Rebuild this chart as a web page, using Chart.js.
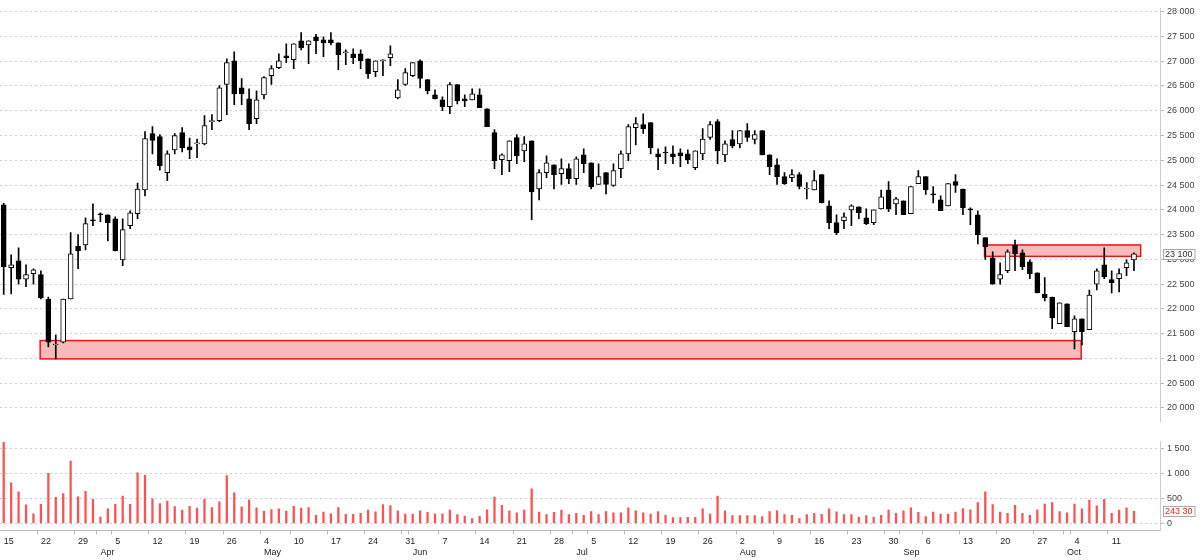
<!DOCTYPE html>
<html><head><meta charset="utf-8">
<script src="https://cdn.jsdelivr.net/npm/chart.js@4.4.1/dist/chart.umd.min.js"></script>
<style>
html,body{margin:0;padding:0;background:#fff;overflow:hidden}
#p{position:absolute;left:0;top:0;width:1200px;height:430px}
#v{position:absolute;left:0;top:433px;width:1200px;height:127px}
</style></head><body>
<div id="p"><canvas id="pc"></canvas></div>
<div id="v"><canvas id="vc"></canvas></div>
<script>
const holidays = ['2021-05-03'];
const firstDay = '2021-03-15', lastDay = '2021-10-14';
const monthNames = ['Jan','Feb','Mar','Apr','May','Jun','Jul','Aug','Sep','Oct','Nov','Dec'];
const dates = [];
for (let d = new Date(firstDay+'T00:00:00Z'); d <= new Date(lastDay+'T00:00:00Z'); d.setUTCDate(d.getUTCDate()+1)) {
  const s = d.toISOString().slice(0,10), wd = d.getUTCDay();
  if (wd>0 && wd<6 && !holidays.includes(s)) dates.push(s);
}
const padCats = ['', '', ''];
const opens =  [24100,22830,22970,22600,22710,22690,22200,21270,21330,22200,23270,23290,23800,23920,23900,23820,22990,23680,23920,24400,25540,25480,24750,25210,25560,25270,25330,25330,25780,25800,26530,27010,26460,26240,25840,26320,26710,26870,27110,27030,27410,27330,27490,27430,27430,27370,27170,27150,27150,27050,26790,27010,27070,26260,26530,26710,27010,26630,26320,26220,26080,26530,26240,26220,26320,26040,25560,25010,24990,25460,25190,25390,24420,24750,24910,24730,24830,24630,25110,24950,24510,24750,24490,24830,25130,25660,25720,25760,25130,25150,25130,25150,25130,24850,25130,25460,25780,25110,25420,25330,25600,25420,25600,25110,24910,24670,24650,24710,24420,24400,24710,24080,23740,23780,24000,24060,23840,23740,24020,24400,24120,24180,23920,24530,24670,24320,24200,24080,24570,24420,24020,23900,23440,23030,22600,22770,23290,23130,22950,22730,22300,22240,21700,22100,21540,21800,21580,22500,22890,22590,22610,22830,22990];
const highs =  [24130,23090,23230,22890,22810,22770,22240,21470,22200,23540,23500,23840,24120,23940,23900,23860,23820,23980,24540,25580,25680,25520,25190,25540,25660,25450,25430,25900,25920,26510,27050,27190,26650,26440,26400,26690,26910,27150,27350,27350,27580,27410,27540,27490,27580,27370,27230,27250,27230,27050,27010,27030,27310,26630,26850,26970,27030,26630,26420,26280,26570,26530,26320,26440,26440,26040,25620,25130,25390,25520,25480,25390,24810,25090,24910,25030,24930,25070,25230,24950,24930,24750,24930,25190,25720,25860,25940,25760,25230,25270,25290,25230,25210,25190,25640,25780,25820,25390,25600,25600,25740,25600,25600,25110,25030,24750,24810,24750,24550,24790,24710,24180,23900,23940,24100,24060,24020,24000,24400,24570,24250,24180,24470,24790,24670,24470,24280,24530,24710,24420,24040,23980,23440,23150,22930,23190,23390,23190,22990,22730,22630,22240,22120,22100,21860,21800,22380,22810,23230,22770,22810,22990,23130];
const lows =   [22290,22300,22500,22450,22500,22200,21230,20990,21310,22200,22810,23190,23680,23760,23370,23170,22870,23620,23820,24280,25130,24800,24590,25130,25170,25030,25050,25310,25620,25780,25920,26120,26120,25620,25740,26240,26530,26850,26970,26850,27230,26950,27150,27090,27330,26830,26930,26950,26850,26650,26690,26710,26910,26240,26510,26690,26460,26340,26240,26000,25940,26140,26080,26220,26060,25680,24830,24710,24770,24930,24970,23800,24200,24650,24420,24510,24530,24510,24750,24420,24510,24320,24470,24650,24990,25310,25540,25130,24810,24930,24930,24870,24930,24810,25010,25420,24930,24970,25250,25250,25380,25330,25110,24710,24510,24510,24570,24420,24220,24400,24140,23620,23500,23620,23680,23820,23700,23700,24020,23960,23900,23900,23920,24530,24310,24140,23980,24080,24350,23900,23700,23310,23000,22500,22500,22730,22770,22790,22610,22320,22160,21600,21700,21640,21190,21270,21580,22380,22610,22320,22340,22670,22770];
const closes = [22850,22890,22600,22690,22790,22220,21330,21290,22200,23110,23170,23720,23780,23900,23740,23170,23600,23940,24420,25440,25400,24890,25130,25500,25250,25210,25350,25700,25800,26460,26970,26340,26340,25740,26220,26670,26850,27010,27070,27350,27270,27410,27410,27370,27370,27130,27190,27070,27010,26750,27010,27030,27150,26420,26770,26970,26650,26400,26240,26080,26530,26200,26200,26340,26060,25680,24990,25110,25390,25090,25330,24360,24750,24950,24710,24830,24630,25030,24930,24460,24670,24510,24790,25130,25680,25740,25640,25250,25070,25150,25070,25090,25010,25190,25430,25720,25190,25330,25290,25600,25460,25520,25110,24870,24670,24530,24710,24470,24440,24590,24140,23740,23540,23860,24080,23940,23720,24000,24260,24020,24220,23900,24470,24670,24400,24300,23980,24530,24490,24040,24000,23500,23250,22500,22690,23150,23110,22850,22710,22320,22220,21820,22120,21640,21800,21540,22280,22770,22650,22530,22710,22930,23110];
const volumes = [1618,809,628,369,194,382,996,518,595,1242,530,640,479,129,291,382,543,382,1009,958,492,395,446,336,265,343,304,485,317,433,951,608,330,472,310,246,278,291,246,343,304,317,162,226,194,317,181,181,200,265,233,375,356,252,188,188,252,220,194,194,265,175,149,97,142,272,524,362,252,214,265,692,226,175,220,265,175,200,162,239,
175,239,214,214,310,252,214,188,239,162,116,116,123,123,291,188,543,252,155,155,155,155,136,239,252,175,162,97,175,200,181,291,233,175,175,123,155,123,162,265,200,252,310,220,136,226,188,188,226,298,272,414,628,375,226,200,362,200,162,272,388,414,239,214,388,291,466,349,479,200,265,310,243];
const priceTicks = [20000,20500,21000,21500,22000,22500,23000,23500,24000,24500,25000,25500,26000,26500,27000,27500,28000];
const volTicks = [0,500,1000,1500];
const zoneStart = [4.9, 131.9], zoneEnd = [144.9, 152.9], zoneLow = [20990, 23060], zoneHigh = [21360, 23290];
const lastPriceLabel = '23 100', lastPriceValue = 23100;
const lastVolLabel = '243 30', lastVolValue = 243;

const labels = dates.concat(padCats);
const fmt = v => String(v).replace(/\B(?=(\d{3})+(?!\d))/g,' ');
const FONT = {family:'"Liberation Sans", Arial, sans-serif', size:9};
const AXW = 40;

const zonesPlugin = {id:'zones', beforeDatasetsDraw(ch){
  const {ctx, scales:{x,y}} = ch;
  ctx.save();
  for (let i=0;i<zoneStart.length;i++){
    const x0=x.getPixelForValue(zoneStart[i]), x1=x.getPixelForValue(zoneEnd[i]);
    const y0=y.getPixelForValue(zoneHigh[i]), y1=y.getPixelForValue(zoneLow[i]);
    ctx.fillStyle='rgba(245,140,140,0.6)'; ctx.fillRect(x0,y0,x1-x0,y1-y0);
    ctx.strokeStyle='#e8141a'; ctx.lineWidth=1.5; ctx.strokeRect(x0,y0,x1-x0,y1-y0);
  }
  ctx.restore();
}};
function markerPlugin(text, value, color){ return {id:'marker', afterDraw(ch){
  const {ctx, chartArea, scales:{y}} = ch;
  const py = Math.round(y.getPixelForValue(value));
  ctx.save(); ctx.font='9px "Liberation Sans", Arial, sans-serif';
  const w = ctx.measureText(text).width+4;
  ctx.fillStyle='#fff'; ctx.fillRect(chartArea.right+3, py-5, w, 10);
  ctx.strokeStyle='#aaa'; ctx.lineWidth=1; ctx.strokeRect(chartArea.right+3.5, py-4.5, w, 10);
  ctx.fillStyle=color; ctx.textBaseline='middle'; ctx.fillText(text, chartArea.right+5, py+0.5);
  ctx.restore();
}};}

const bodyData = opens.map((o,i)=>[Math.min(o,closes[i]), Math.max(o,closes[i])===Math.min(o,closes[i])? o+12 : Math.max(o,closes[i])]);
const wickData = highs.map((h,i)=>[lows[i], h]);
const bodyColors = opens.map((o,i)=> closes[i]>o ? '#ffffff' : '#000000');

new Chart(document.getElementById('pc'), {
  type:'bar',
  data:{labels, datasets:[
    {data:bodyData, backgroundColor:bodyColors, borderColor:'#000', borderWidth:1, borderSkipped:false, barThickness:5, grouped:false, order:0},
    {data:wickData, backgroundColor:'#000', borderWidth:0, barThickness:1, grouped:false, order:1}
  ]},
  options:{responsive:true, maintainAspectRatio:false, animation:false,
    layout:{padding:{top:3,bottom:4,left:0,right:0}},
    plugins:{legend:{display:false}, tooltip:{enabled:false}},
    scales:{
      x:{display:false, offset:true},
      y:{position:'right', min:19724, max:28066,
        afterBuildTicks:s=>{s.ticks=priceTicks.map(v=>({value:v}));},
        afterFit:s=>{s.width=AXW;},
        ticks:{font:FONT, color:'#444', padding:3, callback:v=>fmt(v)},
        grid:{color:'#cfcfcf', tickLength:4, tickColor:'#bbb'},
        border:{color:'#ccc', dash:[2,3]}
      }
    }
  },
  plugins:[zonesPlugin, markerPlugin(lastPriceLabel,lastPriceValue,'#333')]
});

const xTicks = labels.map((s,i)=>{
  if(!s) return '';
  const prev = i>0 ? labels[i-1] : null;
  const d = new Date(s+'T00:00:00Z');
  let day = '', mon = '';
  if (!prev || (new Date(prev+'T00:00:00Z').getUTCDay() >= d.getUTCDay())) day = String(d.getUTCDate());
  if (prev && prev.slice(5,7)!==s.slice(5,7)) mon = monthNames[d.getUTCMonth()];
  return [day, mon];
});

new Chart(document.getElementById('vc'), {
  type:'bar',
  data:{labels, datasets:[{data:volumes, backgroundColor:'rgba(255,50,50,0.85)', barThickness:1.6}]},
  options:{responsive:true, maintainAspectRatio:false, animation:false,
    layout:{padding:{top:4,bottom:0,left:0,right:0}},
    plugins:{legend:{display:false}, tooltip:{enabled:false}},
    scales:{
      x:{offset:true,
        ticks:{autoSkip:false, maxRotation:0, align:'start', font:FONT, color:'#222', padding:2, callback:(v,i)=>xTicks[i]},
        grid:{drawOnChartArea:false, tickLength:4, color:(c)=>{const t=xTicks[c.index]; return t&&(t[0]||t[1])?'#bbb':'rgba(0,0,0,0)';}},
        border:{color:'#bbb'}
      },
      y:{position:'right', min:-138, max:1634,
        afterBuildTicks:s=>{s.ticks=volTicks.map(v=>({value:v}));},
        afterFit:s=>{s.width=AXW;},
        ticks:{font:FONT, color:'#444', padding:3, callback:v=>fmt(v)},
        grid:{color:'#d0d0d0', tickLength:4, tickColor:'#bbb'},
        border:{color:'#ccc', dash:[2,3]}
      }
    }
  },
  plugins:[markerPlugin(lastVolLabel,lastVolValue,'#e82020')]
});
</script>
</body></html>
